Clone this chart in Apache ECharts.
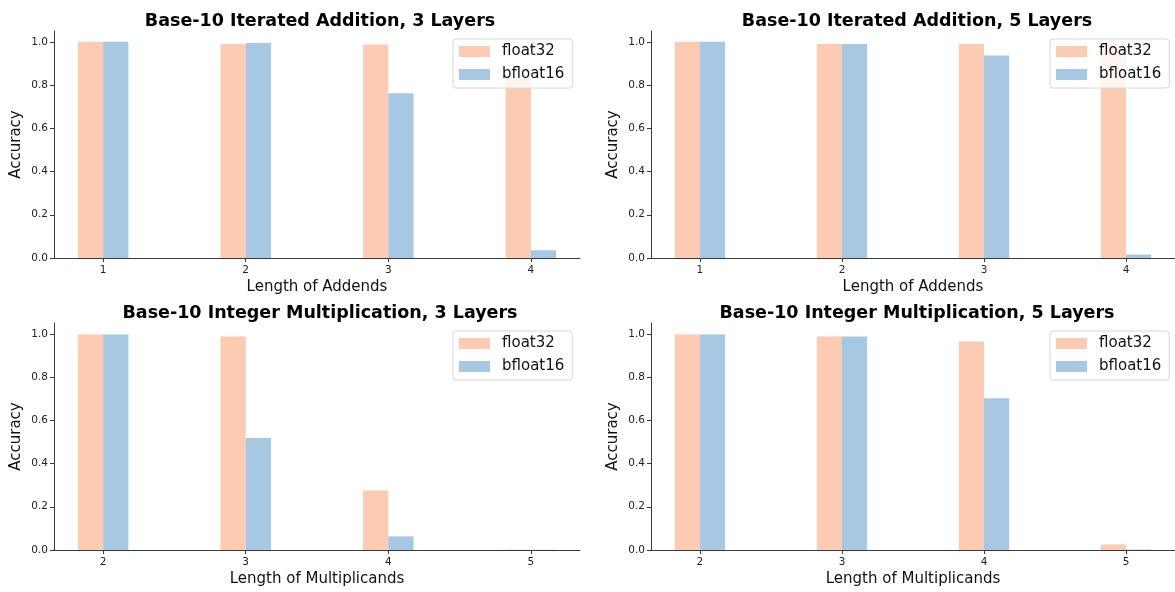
<!DOCTYPE html>
<html>
<head>
<meta charset="utf-8">
<script src="https://cdn.jsdelivr.net/npm/echarts@6/dist/echarts.min.js"></script>
<style>
  html, body { margin: 0; padding: 0; background: #fff; }
  #chart { width: 1175px; height: 592px; }
</style>
</head>
<body>
<div id="chart"></div>
<script>
// x categories
const addLengths = [1, 2, 3, 4];
const mulLengths = [2, 3, 4, 5];
const yTicks = [0, 0.2, 0.4, 0.6, 0.8, 1.0];

// accuracy values
const add3Float32 = [1.0, 0.99, 0.988, 0.833];
const add3Bfloat16 = [1.0, 0.995, 0.762, 0.036];
const add5Float32 = [1.0, 0.99, 0.99, 0.99];
const add5Bfloat16 = [1.0, 0.99, 0.937, 0.016];
const mul3Float32 = [0.997, 0.988, 0.275, 0.002];
const mul3Bfloat16 = [0.997, 0.518, 0.063, 0.001];
const mul5Float32 = [0.997, 0.988, 0.965, 0.026];
const mul5Bfloat16 = [0.997, 0.988, 0.702, 0.002];

const FONT = 'DejaVu Sans';
const C_F32 = '#fdcab2';
const C_BF16 = '#a6c8e2';
const BAR_W = 0.177;   // bar width in x units

// panel layout: [left, top, title, xName, cats, f32, bf16]
const panels = [
  [54, 31, 'Base-10 Iterated Addition, 3 Layers', 'Length of Addends', addLengths, add3Float32, add3Bfloat16],
  [651, 31, 'Base-10 Iterated Addition, 5 Layers', 'Length of Addends', addLengths, add5Float32, add5Bfloat16],
  [54, 323, 'Base-10 Integer Multiplication, 3 Layers', 'Length of Multiplicands', mulLengths, mul3Float32, mul3Bfloat16],
  [651, 323, 'Base-10 Integer Multiplication, 5 Layers', 'Length of Multiplicands', mulLengths, mul5Float32, mul5Bfloat16]
];
const PW = 526, PH = 227;

function barRenderer(offset) {
  return function (params, api) {
    const x = api.value(0), y = api.value(1);
    const p0 = api.coord([x + offset, y]);
    const p1 = api.coord([x + offset + BAR_W, 0]);
    return {
      type: 'rect',
      shape: { x: p0[0], y: p0[1], width: p1[0] - p0[0], height: p1[1] - p0[1] },
      style: api.style()
    };
  };
}

const option = {
  animation: false,
  textStyle: { fontFamily: FONT },
  title: [], grid: [], xAxis: [], yAxis: [], legend: [], series: []
};

panels.forEach(function (p, i) {
  const [left, top, title, xName, cats, f32, bf16] = p;
  // matplotlib style limits: data range plus 5% margin
  const lo = cats[0] - BAR_W, hi = cats[cats.length - 1] + BAR_W;
  const pad = (hi - lo) * 0.05;

  option.title.push({
    text: title, left: left + PW / 2 - 2, top: top - 24, textAlign: 'center',
    textStyle: { fontFamily: FONT, fontSize: 17.5, fontWeight: 'bold', color: '#000' }
  });
  option.grid.push({ left: left, top: top, width: PW, height: PH });
  option.xAxis.push({
    type: 'value', gridIndex: i, min: lo - pad, max: hi + pad,
    name: xName, nameLocation: 'middle', nameGap: 22,
    nameTextStyle: { fontFamily: FONT, fontSize: 15, color: '#111' },
    axisLine: { show: true, onZero: false, lineStyle: { color: '#3a3a3a', width: 1 } },
    axisTick: { show: true, customValues: cats, length: 4, lineStyle: { color: '#3a3a3a' } },
    axisLabel: { customValues: cats, margin: 7, fontSize: 10.5, color: '#222', fontFamily: FONT },
    splitLine: { show: false }
  });
  option.yAxis.push({
    type: 'value', gridIndex: i, min: 0, max: 1.05,
    name: 'Accuracy', nameLocation: 'middle', nameGap: 30,
    nameTextStyle: { fontFamily: FONT, fontSize: 15, color: '#111' },
    axisLine: { show: true, lineStyle: { color: '#3a3a3a', width: 1 } },
    axisTick: { show: true, customValues: yTicks, length: 4, lineStyle: { color: '#3a3a3a' } },
    axisLabel: {
      customValues: yTicks, margin: 6, fontSize: 10.5, color: '#222', fontFamily: FONT,
      formatter: function (v) { return v.toFixed(1); }
    },
    splitLine: { show: false }
  });
  option.legend.push({
    orient: 'vertical', left: left + PW - 127, top: top + 8,
    data: ['float32', 'bfloat16'], icon: 'rect',
    itemWidth: 31, itemHeight: 11, itemGap: 8,
    padding: [5, 8, 6, 6],
    backgroundColor: 'rgba(255,255,255,0.8)',
    borderColor: '#d6d6d6', borderWidth: 1, borderRadius: 3,
    textStyle: { fontFamily: FONT, fontSize: 15, color: '#111', padding: [0, 0, 0, 7] },
    z: 10
  });
  option.series.push({
    name: 'float32', type: 'custom', xAxisIndex: i, yAxisIndex: i,
    renderItem: barRenderer(-BAR_W),
    itemStyle: { color: C_F32 },
    data: cats.map(function (c, k) { return [c, f32[k]]; })
  });
  option.series.push({
    name: 'bfloat16', type: 'custom', xAxisIndex: i, yAxisIndex: i,
    renderItem: barRenderer(0),
    itemStyle: { color: C_BF16 },
    data: cats.map(function (c, k) { return [c, bf16[k]]; })
  });
});

const chart = echarts.init(document.getElementById('chart'), null, { renderer: 'canvas' });
chart.setOption(option);
</script>
</body>
</html>
